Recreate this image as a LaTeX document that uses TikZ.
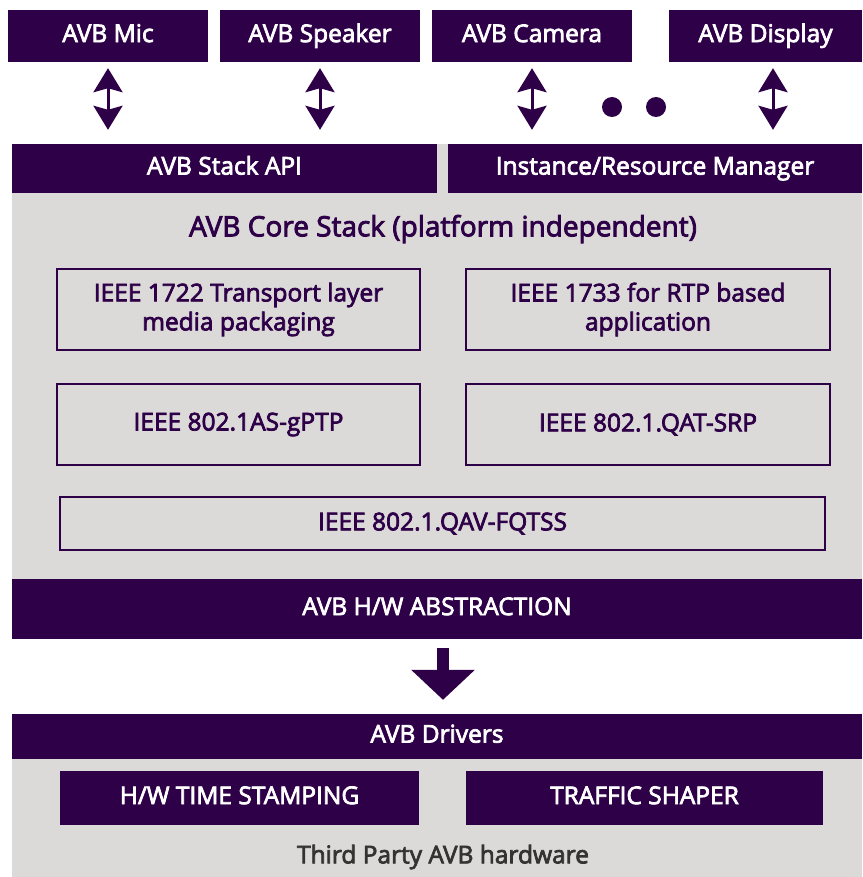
\documentclass[tikz,border=0pt]{standalone}
\usepackage{fontspec}
\setmainfont{Open Sans}[FakeBold=3]
\usetikzlibrary{arrows.meta}
\definecolor{avbpurple}{RGB}{46,0,72}
\definecolor{avbgrey}{RGB}{220,218,217}
\definecolor{avbtext}{RGB}{51,51,51}
\tikzset{
  darkbar/.style={fill=avbpurple, draw=none, text=white, inner sep=0pt,
    text height=17.6pt, text depth=5.4pt, font=\fontsize{24.5}{30}\selectfont},
  layerbox/.style={draw=avbpurple, line width=2.6pt, fill=none, text=avbpurple,
    inner sep=0pt, align=center, font=\fontsize{24.5}{29}\selectfont},
  updown/.style={avbpurple, line width=3pt,
    {Stealth[length=24pt,width=29pt,inset=4pt]}-{Stealth[length=24pt,width=29pt,inset=4pt]},
    shorten <=6pt, shorten >=14pt},
  bigdown/.style={avbpurple, line width=12pt, -{Triangle[length=30pt,width=62pt]},
    shorten <=9pt, shorten >=14pt},
}
\begin{document}
\begin{tikzpicture}[x=1pt,y=-1pt]
\useasboundingbox (0,0) rectangle (862,877);

% grey backgrounds of the core stack and the hardware
\fill[avbgrey] (12,144) rectangle (862,579);
\fill[avbgrey] (12,714) rectangle (862,877);

% applications
\node[darkbar, minimum width=200pt, minimum height=52pt] (mic) at (108,36) {AVB Mic};
\node[darkbar, minimum width=200pt, minimum height=52pt] (spk) at (320,36) {AVB Speaker};
\node[darkbar, minimum width=200pt, minimum height=52pt] (cam) at (532,36) {AVB Camera};
\node[darkbar, minimum width=193pt, minimum height=52pt] (disp) at (765.5,36) {AVB Display};

% stack entry points
\node[darkbar, minimum width=425pt, minimum height=49pt] (api) at (224.5,168.5) {AVB Stack API};
\node[darkbar, minimum width=414pt, minimum height=49pt] (mgr) at (655,168.5) {Instance/Resource Manager};

% application links
\draw[updown] (mic.south) -- (mic.south |- api.north);
\draw[updown] (spk.south) -- (spk.south |- api.north);
\draw[updown] (cam.south) -- (cam.south |- mgr.north);
\coordinate (dispout) at ([xshift=7.5pt]disp.south);
\draw[updown] (dispout) -- (dispout |- mgr.north);

% more applications
\fill[avbpurple] (612,107) circle (10pt) (656,107) circle (10pt);

% core stack
\node[text=avbpurple, font=\fontsize{28}{32}\selectfont] (core) at (443,229) {AVB Core Stack (platform independent)};
\node[layerbox, minimum width=363pt, minimum height=81pt] (p1722) at (238.5,309.5) {IEEE 1722 Transport layer\\media packaging};
\node[layerbox, minimum width=364pt, minimum height=81pt] (p1733) at (648,309.5) {IEEE 1733 for RTP based\\application};
\node[layerbox, minimum width=363pt, minimum height=81pt] (gptp) at (238.5,424.5) {IEEE 802.1AS-gPTP};
\node[layerbox, minimum width=364pt, minimum height=81pt] (srp) at (648,424.5) {IEEE 802.1.QAT-SRP};
\node[layerbox, minimum width=765pt, minimum height=53pt] (fqtss) at (442.5,523.5) {IEEE 802.1.QAV-FQTSS};

% hardware abstraction and drivers
\node[darkbar, minimum width=850pt, minimum height=60pt] (hwa) at (437,609) {AVB H/W ABSTRACTION};
\node[darkbar, minimum width=850pt, minimum height=45pt] (drv) at (437,736.5) {AVB Drivers};
\coordinate (hwout) at ([xshift=6pt]hwa.south);
\draw[bigdown] (hwout) -- (hwout |- drv.north);

\node[darkbar, minimum width=359pt, minimum height=54pt] (tstamp) at (239.5,798) {H/W TIME STAMPING};
\node[darkbar, minimum width=357pt, minimum height=54pt] (shaper) at (644.5,798) {TRAFFIC SHAPER};
\node[text=avbtext, font=\fontsize{24.5}{29}\selectfont] (thw) at (443,857) {Third Party AVB hardware};
\end{tikzpicture}
\end{document}
